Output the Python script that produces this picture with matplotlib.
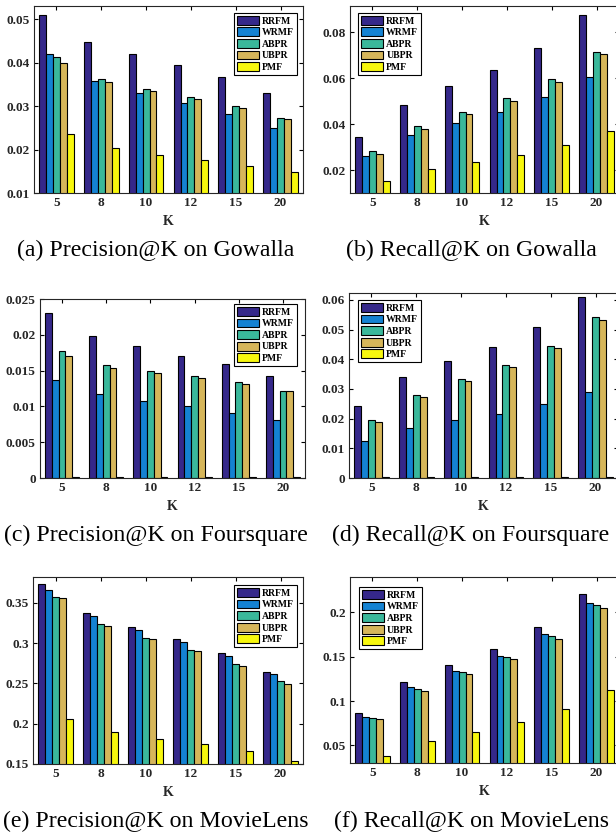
import numpy as np
import matplotlib
matplotlib.use("Agg")
import matplotlib.pyplot as plt
from matplotlib.patches import Patch
from matplotlib.ticker import FuncFormatter

plt.rcParams['font.family'] = ['Liberation Serif', 'DejaVu Serif']

k_labels = ['5', '8', '10', '12', '15', '20']
methods = ['RRFM', 'WRMF', 'ABPR', 'UBPR', 'PMF']
colors = ['#35288A', '#1482D2', '#3AB89B', '#D6B65A', '#F7F70E']

# rows: methods (RRFM, WRMF, ABPR, UBPR, PMF); columns: K = 5, 8, 10, 12, 15, 20
gowalla_precision = [
    [0.0509, 0.0447, 0.0420, 0.0395, 0.0367, 0.0330],
    [0.0420, 0.0357, 0.0330, 0.0308, 0.0282, 0.0250],
    [0.0413, 0.0362, 0.0338, 0.0320, 0.0299, 0.0272],
    [0.0400, 0.0355, 0.0334, 0.0316, 0.0295, 0.0270],
    [0.0236, 0.0204, 0.0187, 0.0177, 0.0163, 0.0148],
]
gowalla_recall = [
    [0.0346, 0.0485, 0.0566, 0.0637, 0.0733, 0.0874],
    [0.0263, 0.0353, 0.0406, 0.0454, 0.0518, 0.0607],
    [0.0282, 0.0390, 0.0453, 0.0514, 0.0596, 0.0715],
    [0.0270, 0.0380, 0.0445, 0.0501, 0.0585, 0.0704],
    [0.0153, 0.0206, 0.0235, 0.0267, 0.0308, 0.0371],
]
foursquare_precision = [
    [0.0230, 0.0199, 0.0184, 0.0171, 0.0159, 0.0143],
    [0.0137, 0.0117, 0.0108, 0.0101, 0.0091, 0.0081],
    [0.0178, 0.0158, 0.0150, 0.0142, 0.0134, 0.0122],
    [0.0170, 0.0153, 0.0146, 0.0139, 0.0131, 0.0121],
    [0.0001, 0.0001, 0.0001, 0.0001, 0.0001, 0.0001],
]
foursquare_recall = [
    [0.0244, 0.0339, 0.0393, 0.0440, 0.0510, 0.0610],
    [0.0123, 0.0167, 0.0194, 0.0217, 0.0248, 0.0291],
    [0.0197, 0.0280, 0.0332, 0.0380, 0.0445, 0.0542],
    [0.0190, 0.0274, 0.0325, 0.0374, 0.0438, 0.0532],
    [0.0002, 0.0002, 0.0002, 0.0002, 0.0002, 0.0003],
]
movielens_precision = [
    [0.3735, 0.3376, 0.3203, 0.3050, 0.2873, 0.2642],
    [0.3661, 0.3335, 0.3166, 0.3013, 0.2840, 0.2622],
    [0.3566, 0.3240, 0.3059, 0.2918, 0.2745, 0.2527],
    [0.3562, 0.3211, 0.3046, 0.2902, 0.2721, 0.2498],
    [0.2061, 0.1892, 0.1813, 0.1747, 0.1665, 0.1533],
]
movielens_recall = [
    [0.0868, 0.1213, 0.1408, 0.1588, 0.1835, 0.2210],
    [0.0815, 0.1160, 0.1344, 0.1513, 0.1753, 0.2105],
    [0.0808, 0.1138, 0.1329, 0.1498, 0.1738, 0.2079],
    [0.0800, 0.1115, 0.1307, 0.1475, 0.1704, 0.2045],
    [0.0380, 0.0549, 0.0654, 0.0759, 0.0913, 0.1126],
]
captions = ['(a) Precision@K on Gowalla', '(b) Recall@K on Gowalla',
            '(c) Precision@K on Foursquare', '(d) Recall@K on Foursquare',
            '(e) Precision@K on MovieLens', '(f) Recall@K on MovieLens']

W, H = 616, 836
fig = plt.figure(figsize=(W / 100, H / 100), dpi=100)


def px_axes(l, r, t, b):
    return fig.add_axes([l / W, 1 - b / H, (r - l) / W, (b - t) / H])


panels = [
    dict(data=gowalla_precision, box=(34, 303, 6, 193), ylim=(0.01, 0.053),
         yt=[0.01, 0.02, 0.03, 0.04, 0.05], leg=('upper right', (0.978, 0.963)),
         cap=(156, 250)),
    dict(data=gowalla_recall, box=(350, 619, 6, 193), ylim=(0.01, 0.0915),
         yt=[0.02, 0.04, 0.06, 0.08], leg=('upper left', (0.030, 0.963)),
         cap=(471, 250)),
    dict(data=foursquare_precision, box=(40, 305, 299, 478), ylim=(0, 0.025),
         yt=[0, 0.005, 0.01, 0.015, 0.02, 0.025], leg=('upper right', (0.970, 0.972)),
         cap=(156, 535)),
    dict(data=foursquare_recall, box=(349, 618, 293, 478), ylim=(0, 0.0623),
         yt=[0, 0.01, 0.02, 0.03, 0.04, 0.05, 0.06], leg=('upper left', (0.033, 0.962)),
         cap=(471, 535)),
    dict(data=movielens_precision, box=(33, 303, 577, 764), ylim=(0.15, 0.382),
         yt=[0.15, 0.2, 0.25, 0.3, 0.35], leg=('upper right', (0.978, 0.957)),
         cap=(156, 821)),
    dict(data=movielens_recall, box=(350, 619, 577, 763), ylim=(0.03, 0.24),
         yt=[0.05, 0.1, 0.15, 0.2], leg=('upper left', (0.033, 0.946)),
         cap=(471, 821)),
]

x = np.arange(len(k_labels))
bw = 0.154
fmt = FuncFormatter(lambda v, p: f"{v:g}")

for pi, p in enumerate(panels):
    ax = px_axes(*p['box'])
    for i, m in enumerate(methods):
        ax.bar(x + (i - 2) * bw, p['data'][i], width=bw, color=colors[i],
               edgecolor='black', linewidth=0.8, label=m, zorder=2)
    ax.set_xlim(-0.5, len(k_labels) - 0.5)
    ax.set_ylim(*p['ylim'])
    ax.set_xticks(x)
    ax.set_xticklabels(k_labels)
    ax.set_yticks(p['yt'])
    ax.yaxis.set_major_formatter(fmt)
    ax.tick_params(direction='in', top=True, right=True, length=3, width=0.8,
                   labelsize=9.5, pad=3)
    for lab in ax.get_xticklabels() + ax.get_yticklabels():
        lab.set_fontweight('bold')
        lab.set_color('#262626')
    for s in ax.spines.values():
        s.set_linewidth(0.8)
        s.set_color('#262626')
    ax.set_xlabel('K', fontsize=10, fontweight='bold', labelpad=4, color='#262626')
    handles = [Patch(facecolor=colors[i], edgecolor='black', linewidth=0.8)
               for i in range(len(methods))]
    leg = ax.legend(handles, methods, loc=p['leg'][0], bbox_to_anchor=p['leg'][1],
                    borderaxespad=0, fancybox=False, framealpha=1, edgecolor='black',
                    prop=dict(family='Liberation Serif', weight='bold', size=7),
                    handlelength=2.3, handleheight=1.0, labelspacing=0.2,
                    handletextpad=0.3, borderpad=0.3)
    leg.get_frame().set_linewidth(0.8)
    fig.text(p['cap'][0] / W, 1 - p['cap'][1] / H, captions[pi], ha='center',
             va='center', fontsize=17.2)

fig.savefig('out.png', dpi=100)
